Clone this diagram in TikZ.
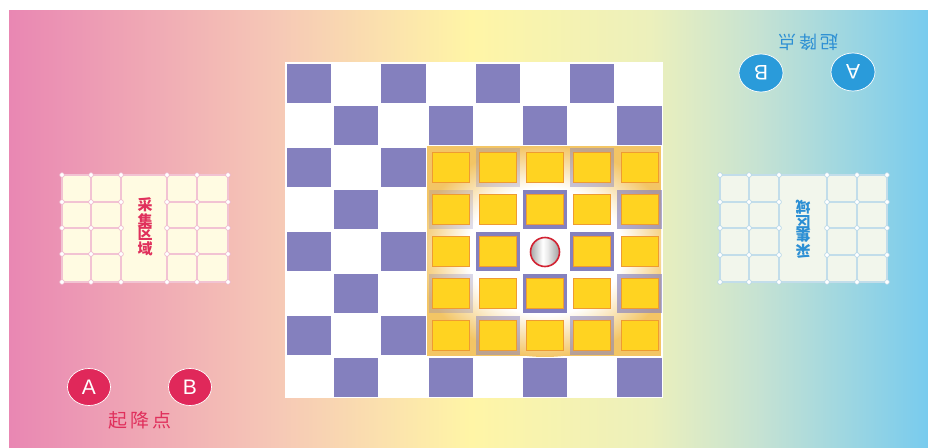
\documentclass[tikz,border=0pt]{standalone}
\usepackage{fontspec}
\setmainfont{Liberation Sans}
\newfontfamily\cjk{Noto Sans CJK SC}
\usetikzlibrary{shapes.geometric}
\definecolor{bgA}{HTML}{E987B3}
\definecolor{bgB}{HTML}{F6C9B6}
\definecolor{bgC}{HTML}{FFF5A6}
\definecolor{bgD}{HTML}{ECF0BC}
\definecolor{bgE}{HTML}{C5E2D3}
\definecolor{bgF}{HTML}{78CBEE}
\definecolor{purp}{HTML}{8480BE}
\definecolor{goldbg}{HTML}{F3C565}
\definecolor{tilefill}{HTML}{FFD321}
\definecolor{tileedge}{HTML}{EE9B32}
\definecolor{crim}{HTML}{E0285A}
\definecolor{crimtxt}{HTML}{E0305C}
\definecolor{skyb}{HTML}{2A9BDA}
\definecolor{skytxt}{HTML}{2C8FD4}
\definecolor{cream}{HTML}{FFFBE2}
\definecolor{pinkline}{HTML}{F2C3D3}
\definecolor{pinkdot}{HTML}{EDB3C8}
\definecolor{mint}{HTML}{F2F6EC}
\definecolor{blueline}{HTML}{C2DDEA}
\definecolor{bluedot}{HTML}{B2D4E6}
\definecolor{ballred}{HTML}{D22232}
\pgfdeclareradialshading{glow}{\pgfpoint{0bp}{0bp}}{color(0bp)=(white); color(15bp)=(white); color(25bp)=(goldbg); color(50bp)=(goldbg)}
\pgfdeclarehorizontalshading{silver}{100bp}{color(0bp)=(gray!70); color(25bp)=(gray!70); color(46bp)=(white); color(54bp)=(white!85!gray); color(75bp)=(gray!75); color(100bp)=(gray!75)}
\tikzset{
  purpsq/.style={fill=purp},
  tilebox/.style={rectangle, inner sep=0pt, minimum width=37pt, minimum height=30pt, fill=tilefill, draw=tileedge, line width=0.7pt},
  pline/.style={draw=pinkline, line width=1.3pt},
  bline/.style={draw=blueline, line width=1.3pt},
  pdot/.style={fill=white, draw=pinkdot, line width=0.6pt},
  bdot/.style={fill=white, draw=bluedot, line width=0.6pt},
  redbadge/.style={ellipse, inner sep=0pt, minimum width=43pt, minimum height=37pt, fill=crim, draw=white, line width=0.7pt, text=white, font=\fontsize{21}{21}\selectfont},
  bluebadge/.style={ellipse, inner sep=0pt, minimum width=44pt, minimum height=38pt, fill=skyb, draw=white, line width=0.7pt, text=white, font=\fontsize{21}{21}\selectfont, rotate=180},
}
\begin{document}
\begin{tikzpicture}[x=1pt,y=-1pt]
\useasboundingbox (0,0) rectangle (928,447);
% background gradient
\shade[left color=bgA,right color=bgB] (9,10) rectangle (280.5,447);
\shade[left color=bgB,right color=bgC] (280,10) rectangle (470.5,447);
\shade[left color=bgC,right color=bgD] (470,10) rectangle (650.5,447);
\shade[left color=bgD,right color=bgE] (650,10) rectangle (760.5,447);
\shade[left color=bgE,right color=bgF] (760,10) rectangle (928,447);
% board
\fill[white] (285,62) rectangle (663,398);
\foreach \i in {0,...,7}{
  \foreach \j in {0,...,7}{
    \pgfmathtruncatemacro{\pty}{mod(\i+\j,2)}
    \pgfmathtruncatemacro{\inreg}{and(\i>2,and(\j>1,\j<7))}
    \ifnum\pty=0
      \ifnum\inreg=0
        \fill[purpsq] ({285.5+47.2*\i+1.5},{62+42*\j+1.5}) rectangle ({285.5+47.2*(\i+1)-1.5},{62+42*(\j+1)-1.5});
      \fi
    \fi
  }
}
% golden area with glow
\begin{scope}
\clip (427,146) rectangle (661,356);
\fill[goldbg] (427,146) rectangle (661,356);
\shade[shading=glow] (545,251) ellipse [x radius=130, y radius=106];
\end{scope}
\foreach \i/\j/\o in {4/2/0.3, 6/2/0.45, 3/3/0.25, 5/3/1, 7/3/0.65, 4/4/1, 6/4/1, 3/5/0.3, 5/5/1, 7/5/0.65, 4/6/0.5, 6/6/0.55}{
  \fill[purpsq, fill opacity=\o] ({285.5+47.2*\i+1.5},{62+42*\j+1.5}) rectangle ({285.5+47.2*(\i+1)-1.5},{62+42*(\j+1)-1.5});
}
\foreach \i in {3,...,7}{
  \foreach \j in {2,...,6}{
    \pgfmathtruncatemacro{\isball}{and(\i==5,\j==4)}
    \ifnum\isball=0
      \node[tilebox] (tile-\i-\j) at ({285.5+47.2*(\i+0.5)},{62+42*(\j+0.5)}) {};
    \fi
  }
}
\node[circle, inner sep=0pt, minimum size=29pt, shading=silver, draw=ballred, line width=1.6pt] (ball) at (545,252) {};
% left panel
\fill[cream] (62,175) rectangle (228,282);
\foreach \x in {62,91,121,167,197,228} \draw[pline] (\x,175) -- (\x,282);
\foreach \y in {175,282} \draw[pline] (62,\y) -- (228,\y);
\foreach \y in {202,228,254}{\draw[pline] (62,\y) -- (121,\y); \draw[pline] (167,\y) -- (228,\y);}
\foreach \x in {62,91,121,167,197,228}{\foreach \y in {175,202,228,254,282}{\draw[pdot] (\x,\y) circle (2.4);}}
\node[align=center, inner sep=0pt, text=crimtxt, font=\cjk\bfseries\fontsize{15}{13.8}\selectfont] (ltext) at (145,227) {采\\集\\区\\域};
% right panel
\fill[mint] (720,175) rectangle (887,282);
\foreach \x in {720,749,779,827,857,887} \draw[bline] (\x,175) -- (\x,282);
\foreach \y in {175,282} \draw[bline] (720,\y) -- (887,\y);
\foreach \y in {202,228,255}{\draw[bline] (720,\y) -- (779,\y); \draw[bline] (827,\y) -- (887,\y);}
\foreach \x in {720,749,779,827,857,887}{\foreach \y in {175,202,228,255,282}{\draw[bdot] (\x,\y) circle (2.4);}}
\node[align=center, inner sep=0pt, rotate=180, text=skytxt, font=\cjk\bfseries\fontsize{15}{13.8}\selectfont] (rtext) at (803,229) {采\\集\\区\\域};
% landing points
\node[redbadge] (la) at (89,387) {A};
\node[redbadge] (lb) at (190,387) {B};
\node[text=crimtxt, font=\cjk\fontsize{19}{19}\selectfont] (llabel) at (140,420) {起\,降\,点};
\node[bluebadge] (rb) at (761,73) {B};
\node[bluebadge] (ra) at (853,72) {A};
\node[rotate=180, text=skytxt, font=\cjk\fontsize{18}{18}\selectfont] (rlabel) at (808,42) {起\,降\,点};
\end{tikzpicture}
\end{document}
